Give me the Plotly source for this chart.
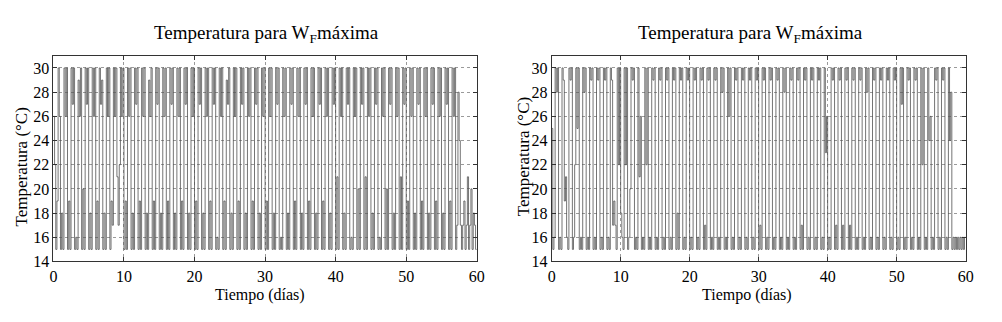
import plotly.graph_objects as go

# ---------------- data (per day: 6 readings, 4-hourly) ----------------
left_d00 = [(26,22,15,19,30,26),(15,18,15,30,26,30),(15,19,15,30,27,30),(15,16,15,29,26,30),(15,20,15,30,27,30),
            (15,18,15,30,26,30),(15,19,15,30,27,29),(15,18,15,30,26,30),(15,19,17,30,26,30),(21,17,22,30,26,30)]
left_d10 = [(15,19,15,30,26,30),(15,18,15,30,27,30),(15,19,15,30,26,30),(15,18,15,29,26,30),(15,19,15,30,27,30),
            (15,18,15,30,26,30),(15,19,15,30,27,30),(15,18,15,30,26,30),(15,19,15,30,27,30),(15,18,15,30,26,30)]
left_d20 = [(15,19,15,30,27,30),(15,18,15,30,26,30),(15,19,15,30,27,30),(15,16,15,30,26,30),(15,19,15,29,27,30),
            (15,18,15,30,26,30),(15,19,15,30,27,30),(15,18,15,30,26,30),(15,19,15,30,27,30),(15,18,15,30,26,30)]
left_d30 = [(15,19,15,30,26,30),(15,18,15,30,27,30),(15,16,15,30,26,30),(15,18,15,30,27,30),(15,19,15,30,26,30),
            (15,18,15,30,27,30),(15,19,15,30,26,30),(15,18,15,30,27,30),(15,19,15,30,26,30),(15,18,15,30,27,30)]
left_d40 = [(15,21,15,30,26,30),(15,18,15,30,27,30),(15,16,15,30,26,30),(15,20,15,30,27,30),(15,21,15,30,26,30),
            (15,18,15,30,27,30),(15,16,15,30,26,30),(15,20,15,30,27,30),(15,18,15,30,26,30),(15,21,15,30,27,30)]
left_d50 = [(15,19,15,30,26,30),(15,18,15,30,27,30),(15,19,15,30,26,30),(15,18,15,30,27,30),(15,19,15,30,26,30),
            (15,18,15,30,27,30),(15,19,15,30,26,30),(15,17,28,24,17,15),(17,19,15,17,21,15),(17,20,15,18,17,15)]

right_d00 = [(25,15,16,30,28,30),(15,16,15,30,29,19),(21,16,15,30,29,30),(15,16,22,30,25,30),(15,16,15,30,28,30),
             (15,16,15,30,29,30),(15,16,15,30,29,30),(15,16,15,30,29,30),(15,16,15,30,29,17),(19,17,15,30,22,30)]
right_d10 = [(18,16,15,30,22,30),(15,16,20,30,29,30),(15,16,15,30,21,26),(15,16,15,30,22,30),(15,16,15,30,29,30),
             (15,16,15,30,29,30),(15,16,15,30,29,30),(15,16,15,30,29,30),(15,18,15,30,29,30),(15,16,15,30,29,30)]
right_d20 = [(15,16,15,30,29,30),(15,16,15,30,29,30),(15,17,15,30,29,30),(15,16,15,30,29,30),(15,16,15,30,28,30),
             (15,16,15,30,26,30),(15,16,15,30,29,30),(15,16,15,30,29,30),(15,16,15,30,29,30),(15,16,15,30,29,30)]
right_d30 = [(15,17,15,30,29,30),(15,16,15,30,29,30),(15,16,15,30,29,30),(15,16,15,30,28,30),(15,16,15,30,29,30),
             (15,16,15,30,29,30),(15,17,15,30,29,30),(15,16,15,30,29,30),(15,16,15,30,29,30),(15,16,15,30,23,26)]
right_d40 = [(15,16,15,30,29,30),(15,17,15,30,29,30),(15,17,15,30,29,30),(15,17,15,30,29,30),(15,16,15,30,29,30),
             (15,16,15,30,28,30),(15,16,15,30,29,30),(15,16,15,30,29,30),(15,16,15,30,29,30),(15,16,15,30,29,30)]
right_d50 = [(15,16,15,30,27,30),(15,16,15,30,29,30),(15,16,15,30,29,30),(15,16,15,30,22,30),(15,16,15,30,24,26),
             (15,16,15,30,29,30),(15,16,15,30,29,30),(15,16,15,30,24,28),(15,16,15,16,15,16),(15,16,15,16,15,16)]

x_ticks = [0, 10, 20, 30, 40, 50, 60]
y_ticks = [14, 16, 18, 20, 22, 24, 26, 28, 30]
title_text = "Temperatura para W<sub>F</sub>máxima"
x_label = "Tiempo (días)"
y_label = "Temperatura (°C)"

SAMPLES = 6


def to_series(blocks):
    xs, ys = [], []
    day = 0
    for block in blocks:
        for readings in block:
            for k, v in enumerate(readings):
                xs.append(day + k / SAMPLES)
                ys.append(v)
            day += 1
    xs.append(day)
    ys.append(ys[-1])
    return xs, ys


lx, ly = to_series([left_d00, left_d10, left_d20, left_d30, left_d40, left_d50])
rx, ry = to_series([right_d00, right_d10, right_d20, right_d30, right_d40, right_d50])

FONT = "Liberation Serif"
fig = go.Figure()
line_style = dict(color="#505050", width=0.8, shape="hv")
fig.add_trace(go.Scatter(x=lx, y=ly, mode="lines", line=line_style, xaxis="x", yaxis="y",
                         showlegend=False, hoverinfo="skip"))
fig.add_trace(go.Scatter(x=rx, y=ry, mode="lines", line=line_style, xaxis="x2", yaxis="y2",
                         showlegend=False, hoverinfo="skip"))

W, H = 1002, 322
ax_common = dict(showline=True, linecolor="#333333", linewidth=1, mirror="ticks", ticks="inside", ticklen=4,
                 tickcolor="#333333", showgrid=True, gridcolor="#9a9a9a", griddash="dot", gridwidth=1,
                 zeroline=False, tickfont=dict(family=FONT, size=16, color="black"))
xa = dict(ax_common, range=[0, 60], tickvals=x_ticks)
ya = dict(ax_common, range=[14, 31], tickvals=y_ticks)

fig.update_layout(
    width=W, height=H, paper_bgcolor="white", plot_bgcolor="white",
    margin=dict(l=0, r=0, t=0, b=0),
    xaxis=dict(xa, domain=[50 / W, 478.5 / W], anchor="y"),
    yaxis=dict(ya, domain=[1 - 269 / H, 1 - 57.5 / H], anchor="x"),
    xaxis2=dict(xa, domain=[554.3 / W, 973.3 / W], anchor="y2"),
    yaxis2=dict(ya, domain=[1 - 269 / H, 1 - 57.5 / H], anchor="x2"),
)

ann = []
for cx, ytx, ycy in [(266, 17.5, 172), (756, 526, 161)]:
    ann.append(dict(text=title_text, x=cx / W, y=1 - 35 / H, xref="paper", yref="paper", showarrow=False,
                    xanchor="center", yanchor="middle", font=dict(family=FONT, size=19, color="black")))
    ann.append(dict(text=y_label, x=ytx / W, y=1 - ycy / H, xref="paper", yref="paper", showarrow=False,
                    textangle=-90, xanchor="center", yanchor="middle", font=dict(family=FONT, size=17, color="black")))
for cx in [259, 752]:
    ann.append(dict(text=x_label, x=cx / W, y=1 - 303 / H, xref="paper", yref="paper", showarrow=False,
                    xanchor="center", yanchor="middle", font=dict(family=FONT, size=16, color="black")))
fig.update_layout(annotations=ann)

fig.write_html("out.html", config={"displayModeBar": False},
               post_script="document.body.style.margin='0px';document.body.style.overflow='hidden';")
